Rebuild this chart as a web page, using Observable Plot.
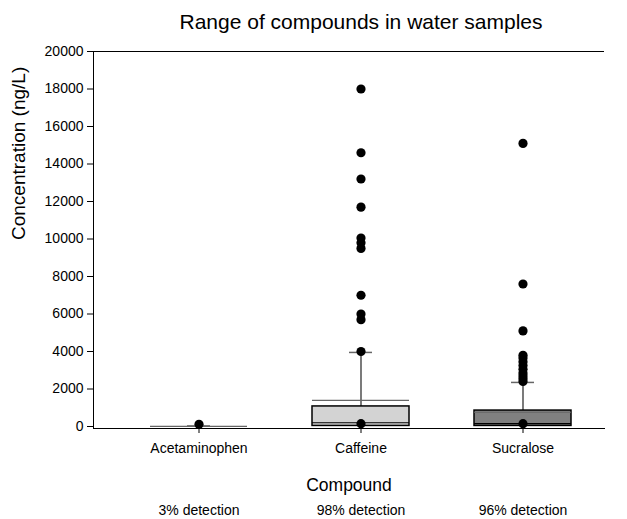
<!DOCTYPE html>
<html>
<head>
<meta charset="utf-8">
<script src="https://cdn.jsdelivr.net/npm/d3@7"></script>
<script src="https://cdn.jsdelivr.net/npm/@observablehq/plot@0.6"></script>
<style>
  html, body { margin: 0; padding: 0; background: #fff; }
  svg { font-family: "Liberation Sans", Arial, sans-serif; }
</style>
</head>
<body>
<div id="chart"></div>
<script>
const title = "Range of compounds in water samples";
const yLabel = "Concentration (ng/L)";
const xLabel = "Compound";
const compounds = ["Acetaminophen", "Caffeine", "Sucralose"];
const detection = ["3% detection", "98% detection", "96% detection"];
const q1 = [0, 30, 30];
const median = [0, 200, 150];
const q3 = [0, 1070, 850];
const mean = [10, 1390, 760];
const whiskerLow = [0, 0, 0];
const whiskerHigh = [30, 3950, 2350];
const boxFill = ["#ffffff", "#d3d3d3", "#808080"];
const outliersAcetaminophen = [120];
const outliersCaffeine = [18000, 14600, 13200, 11700, 10050, 9800, 9500, 7000, 6000, 5700, 4000, 150];
const outliersSucralose = [15100, 7600, 5100, 3800, 3650, 3450, 3250, 3050, 2850, 2700, 2550, 2400, 150];
const yTicks = [0, 2000, 4000, 6000, 8000, 10000, 12000, 14000, 16000, 18000, 20000];

const boxes = compounds.map((c, i) => ({
  compound: c, q1: q1[i], median: median[i], q3: q3[i], mean: mean[i],
  lo: whiskerLow[i], hi: whiskerHigh[i], fill: boxFill[i], detection: detection[i]
}));
const outliers = [
  ...outliersAcetaminophen.map(v => ({compound: compounds[0], value: v})),
  ...outliersCaffeine.map(v => ({compound: compounds[1], value: v})),
  ...outliersSucralose.map(v => ({compound: compounds[2], value: v}))
];

const chart = Plot.plot({
  width: 627,
  height: 519,
  marginLeft: 93,
  marginRight: 23,
  marginTop: 51,
  marginBottom: 91,
  insetLeft: 25,
  insetBottom: 2,
  style: {fontFamily: "Liberation Sans, Arial, sans-serif", fontSize: "14px", color: "#000", background: "#fff"},
  x: {domain: compounds, paddingInner: 0.4, paddingOuter: 0.2, label: null, tickSize: 5, tickPadding: 10, line: true},
  y: {domain: [0, 20000], ticks: yTicks, tickFormat: d => String(d), tickSize: 6, tickPadding: 4, label: null, line: true},
  color: {type: "identity"},
  marks: [
    Plot.ruleY([20000], {stroke: "#000", strokeWidth: 1.2}),
    Plot.ruleX(boxes, {x: "compound", y1: "q3", y2: "hi", stroke: "#222", strokeWidth: 1.2}),
    Plot.ruleX(boxes, {x: "compound", y1: "lo", y2: "q1", stroke: "#222", strokeWidth: 1.2}),
    Plot.tickY(boxes, {x: "compound", y: "hi", stroke: "#666", strokeWidth: 1.5, inset: 37}),
    Plot.barY(boxes, {x: "compound", y1: "q1", y2: "q3", fill: "fill", stroke: "#000", strokeWidth: 1.5}),
    Plot.tickY(boxes, {x: "compound", y: "median", stroke: "#000", strokeWidth: 1.2}),
    Plot.tickY(boxes, {x: "compound", y: "mean", stroke: "#666", strokeWidth: 1.2}),
    Plot.dot(outliers, {x: "compound", y: "value", r: 4.6, fill: "#000", stroke: "none"}),
    Plot.text([xLabel], {frameAnchor: "bottom", lineAnchor: "middle", dy: 57, fontSize: 17.5, fill: "#000"}),
    Plot.text(boxes, {x: "compound", text: "detection", frameAnchor: "bottom", lineAnchor: "middle", dy: 82, fontSize: 14, fill: "#000"}),
    Plot.text([yLabel], {frameAnchor: "left", lineAnchor: "middle", dx: -75, rotate: -90, fontSize: 19, fill: "#000"}),
    Plot.text([title], {frameAnchor: "top", lineAnchor: "middle", dy: -29, dx: 12, fontSize: 21, fill: "#000"})
  ]
});
document.getElementById("chart").appendChild(chart);
</script>
</body>
</html>
